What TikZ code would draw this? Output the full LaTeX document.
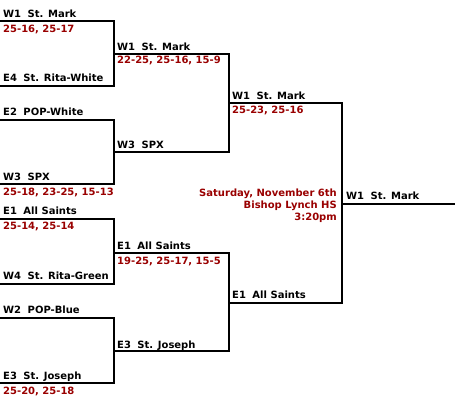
\documentclass[tikz,border=0pt]{standalone}
\usepackage{fontspec}
\setmainfont{DejaVu Sans}
\definecolor{scorered}{HTML}{990000}
\newcommand{\gapsp}{\hspace{0.65em}}
\begin{document}
\begin{tikzpicture}[x=1pt,y=-1pt,
  team/.style={anchor=base west,inner sep=0pt,font=\fontsize{10}{12}\selectfont\bfseries,text=black},
  score/.style={anchor=base west,inner sep=0pt,font=\fontsize{10}{12}\selectfont\bfseries,text=scorered},
  info/.style={anchor=base east,inner sep=0pt,font=\fontsize{10}{12}\selectfont\bfseries,text=scorered},
  bracket/.style={draw=black,line width=2pt}]
\useasboundingbox (0,0) rectangle (455,405);
% coordinates of bracket lines
\coordinate (a1) at (0,21);   \coordinate (a1r) at (114,21);
\coordinate (a2) at (0,86);   \coordinate (a2r) at (114,86);
\coordinate (b1) at (0,120);  \coordinate (b1r) at (114,120);
\coordinate (b2) at (0,184);  \coordinate (b2r) at (114,184);
\coordinate (c1) at (0,219);  \coordinate (c1r) at (114,219);
\coordinate (c2) at (0,284);  \coordinate (c2r) at (114,284);
\coordinate (d1) at (0,318);  \coordinate (d1r) at (114,318);
\coordinate (d2) at (0,383);  \coordinate (d2r) at (114,383);
\coordinate (e1) at (114,54);  \coordinate (e1r) at (229,54);
\coordinate (e2) at (114,152); \coordinate (e2r) at (229,152);
\coordinate (f1) at (114,253); \coordinate (f1r) at (229,253);
\coordinate (f2) at (114,351); \coordinate (f2r) at (229,351);
\coordinate (g1) at (229,103); \coordinate (g1r) at (342,103);
\coordinate (g2) at (229,303); \coordinate (g2r) at (342,303);
\coordinate (h1) at (342,204); \coordinate (h1r) at (455,204);
% lines
\draw[bracket] (a1) -- (a1r) -- (a2r) -- (a2);
\draw[bracket] (b1) -- (b1r) -- (b2r) -- (b2);
\draw[bracket] (c1) -- (c1r) -- (c2r) -- (c2);
\draw[bracket] (d1) -- (d1r) -- (d2r) -- (d2);
\draw[bracket] (e1) -- (e1r) -- (e2r) -- (e2);
\draw[bracket] (f1) -- (f1r) -- (f2r) -- (f2);
\draw[bracket] (g1) -- (g1r) -- (g2r) -- (g2);
\draw[bracket] (h1) -- (h1r);
% round 1
\node[team] (t1) at (3,17) {W1\gapsp St. Mark};
\node[score] (s1) at (3,32) {25-16, 25-17};
\node[team] (t2) at (3,81) {E4\gapsp St. Rita-White};
\node[team] (t3) at (3,115) {E2\gapsp POP-White};
\node[team] (t4) at (3,180) {W3\gapsp SPX};
\node[score] (s2) at (3,195) {25-18, 23-25, 15-13};
\node[team] (t5) at (3,214) {E1\gapsp All Saints};
\node[score] (s3) at (3,229) {25-14, 25-14};
\node[team] (t6) at (3,279) {W4\gapsp St. Rita-Green};
\node[team] (t7) at (3,313) {W2\gapsp POP-Blue};
\node[team] (t8) at (3,379) {E3\gapsp St. Joseph};
\node[score] (s4) at (3,394) {25-20, 25-18};
% round 2
\node[team] (u1) at (117,50) {W1\gapsp St. Mark};
\node[score] (v1) at (117,63) {22-25, 25-16, 15-9};
\node[team] (u2) at (117,148) {W3\gapsp SPX};
\node[team] (u3) at (117,249) {E1\gapsp All Saints};
\node[score] (v2) at (117,264) {19-25, 25-17, 15-5};
\node[team] (u4) at (117,348) {E3\gapsp St. Joseph};
% round 3
\node[team] (w1) at (232,99) {W1\gapsp St. Mark};
\node[score] (x1) at (232,113) {25-23, 25-16};
\node[team] (w2) at (232,298) {E1\gapsp All Saints};
% final
\node[team] (champ) at (346,199) {W1\gapsp St. Mark};
\node[info] (date) at (337,196) {Saturday, November 6th};
\node[info] (place) at (337,208) {Bishop Lynch HS};
\node[info] (time) at (337,220) {3:20pm};
\end{tikzpicture}
\end{document}
